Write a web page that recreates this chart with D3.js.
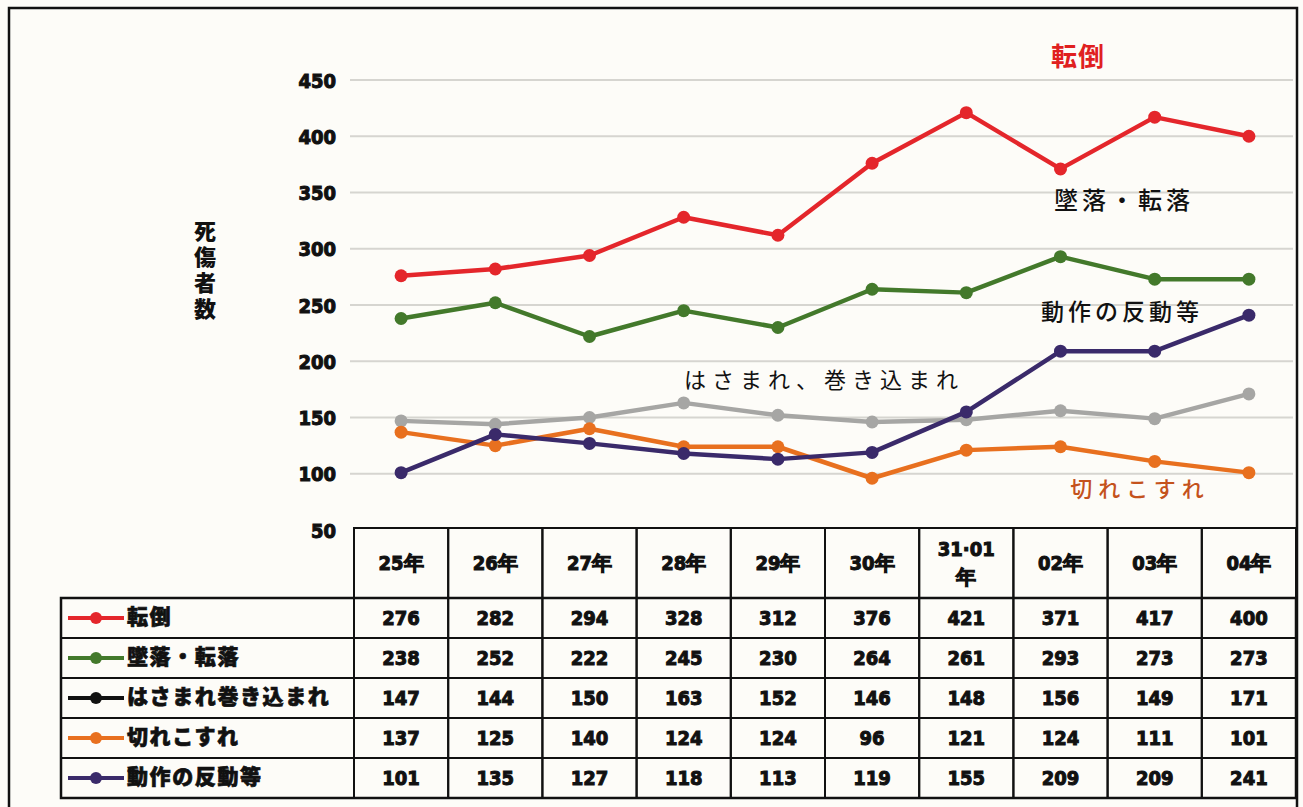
<!DOCTYPE html>
<html><head><meta charset="utf-8">
<script src="https://cdn.jsdelivr.net/npm/d3@7"></script>
<style>
html,body{margin:0;padding:0;background:#fdfcf8;}
svg{display:block;}
</style></head>
<body>
<svg id="c" width="1303" height="807"></svg>
<script>
const categories = ["25年","26年","27年","28年","29年","30年","31·01\n年","02年","03年","04年"];
const seriesNames = ["転倒","墜落・転落","はさまれ巻き込まれ","切れこすれ","動作の反動等"];
const tentou   = [276,282,294,328,312,376,421,371,417,400];
const tsuiraku = [238,252,222,245,230,264,261,293,273,273];
const hasamare = [147,144,150,163,152,146,148,156,149,171];
const kire     = [137,125,140,124,124,96,121,124,111,101];
const dousa    = [101,135,127,118,113,119,155,209,209,241];
const yTicks = [50,100,150,200,250,300,350,400,450];
const annotations = ["転倒","墜落・転落","はさまれ、巻き込まれ","切れこすれ","動作の反動等"];

const seriesData = [tentou, tsuiraku, hasamare, kire, dousa];
const lineColors = ["#e4262b","#43792b","#a6a6a4","#e8701f","#3a2a6a"];
const legendColors = ["#e4262b","#43792b","#111111","#e8701f","#3a2a6a"];

const svg = d3.select("#c");
const numFont = "'DejaVu Sans Condensed','Liberation Sans Narrow',sans-serif";
const jpFont = "'Noto Sans CJK JP',sans-serif";

// frame
svg.append("rect").attr("x",9).attr("y",8).attr("width",1288).attr("height",805)
  .attr("fill","#fdfcf8").attr("stroke","#111").attr("stroke-width",2.5);

const tableLeft = 354, tableRight = 1296;
const x = d3.scaleBand().domain(d3.range(categories.length)).range([tableLeft, tableRight]);
const y = d3.scaleLinear().domain([50,450]).range([530,80]);

// gridlines
svg.append("g").selectAll("line").data(yTicks.filter(t=>t>50)).join("line")
  .attr("x1",350).attr("x2",1293).attr("y1",d=>y(d)).attr("y2",d=>y(d))
  .attr("stroke","#d6d5d0").attr("stroke-width",2);

// y axis labels
const yAxis = d3.axisLeft(y).tickValues(yTicks).tickSize(0).tickPadding(0);
const ga = svg.append("g").attr("transform","translate(336,0)").call(yAxis);
ga.select(".domain").remove();
ga.selectAll("text").attr("font-family",numFont).attr("font-weight","bold")
  .attr("font-size",20).attr("fill","#111").attr("stroke","#111").attr("stroke-width",1)
  .attr("dy","0.35em");

// y title vertical (single text, vertical writing mode)
svg.append("text").attr("x",205).attr("y",220)
  .style("writing-mode","vertical-rl").style("text-orientation","upright")
  .attr("letter-spacing",4)
  .attr("font-family",jpFont).attr("font-weight",900).attr("font-size",22)
  .attr("fill","#111").text("死傷者数");

// lines
const line = d3.line().x((d,i)=>x(i)+x.bandwidth()/2).y(d=>y(d));
const order = [2,3,4,1,0];
order.forEach(si=>{
  const g = svg.append("g");
  g.append("path").datum(seriesData[si]).attr("d",line).attr("fill","none")
    .attr("stroke",lineColors[si]).attr("stroke-width",4.5).attr("stroke-linejoin","round");
  g.selectAll("circle").data(seriesData[si]).join("circle")
    .attr("cx",(d,i)=>x(i)+x.bandwidth()/2).attr("cy",d=>y(d)).attr("r",6.5)
    .attr("fill",lineColors[si]);
});

// annotations: [x, y, color, size, weight, letterSpacing]
const annPos = [[1078,59,"#e0201f",26,700,1],[1124,202,"#111",24,500,4],[824,382,"#111",22,400,6],[1140,491,"#c4521c",22,500,6],[1122,314,"#111",23,500,4]];
annotations.forEach((t,i)=>{
  const p = annPos[i];
  svg.append("text").attr("x",p[0]).attr("y",p[1]).attr("text-anchor","middle")
    .attr("dominant-baseline","middle").attr("font-family",jpFont)
    .attr("font-weight",p[4]).attr("font-size",p[3]).attr("fill",p[2])
    .attr("letter-spacing", p[5]).text(t);
});

// table
const headTop = 528, headBot = 598, rowH = 40, legLeft = 61;
const tbl = svg.append("g");
const rowsBottom = headBot + rowH*seriesNames.length;
tbl.selectAll("rect.h").data(categories).join("rect")
  .attr("x",(d,i)=>x(i)).attr("y",headTop).attr("width",x.bandwidth()).attr("height",headBot-headTop)
  .attr("fill","none").attr("stroke","#111").attr("stroke-width",2);
tbl.selectAll("text.h").data(categories).join("text")
  .attr("font-family",numFont).attr("font-weight","bold").attr("font-size",20)
  .attr("fill","#111").attr("stroke","#111").attr("stroke-width",1)
  .attr("text-anchor","middle")
  .each(function(d,i){
    const parts = d.split("\n");
    const cx = x(i)+x.bandwidth()/2;
    const cy = (headTop+headBot)/2;
    parts.forEach((p,k)=>{
      d3.select(this).append("tspan").attr("x",cx)
        .attr("y", cy + 7 + (k-(parts.length-1)/2)*28).text(p);
    });
  });
seriesNames.forEach((name,ri)=>{
  const ry = headBot + ri*rowH;
  tbl.append("rect").attr("x",legLeft).attr("y",ry).attr("width",tableLeft-legLeft).attr("height",rowH)
    .attr("fill","none").attr("stroke","#111").attr("stroke-width",2);
  tbl.append("line").attr("x1",68).attr("x2",124).attr("y1",ry+rowH/2).attr("y2",ry+rowH/2)
    .attr("stroke",legendColors[ri]).attr("stroke-width",4);
  tbl.append("circle").attr("cx",96).attr("cy",ry+rowH/2).attr("r",6).attr("fill",legendColors[ri]);
  tbl.append("text").attr("x",127).attr("y",ry+rowH/2).attr("dominant-baseline","middle")
    .attr("font-family",jpFont).attr("font-weight",900).attr("font-size",21)
    .attr("letter-spacing",1.6)
    .attr("fill","#111").attr("stroke","#111").attr("stroke-width",0.7).text(name);
  seriesData[ri].forEach((v,ci)=>{
    tbl.append("rect").attr("x",x(ci)).attr("y",ry).attr("width",x.bandwidth()).attr("height",rowH)
      .attr("fill","none").attr("stroke","#111").attr("stroke-width",2);
    tbl.append("text").attr("x",x(ci)+x.bandwidth()/2).attr("y",ry+rowH/2+7)
      .attr("text-anchor","middle").attr("font-family",numFont).attr("font-weight","bold")
      .attr("font-size",20).attr("fill","#111").attr("stroke","#111").attr("stroke-width",1).text(v);
  });
});
tbl.append("rect").attr("x",legLeft).attr("y",headBot).attr("width",tableRight-legLeft).attr("height",rowsBottom-headBot)
  .attr("fill","none").attr("stroke","#111").attr("stroke-width",2.5);
</script>
</body></html>
